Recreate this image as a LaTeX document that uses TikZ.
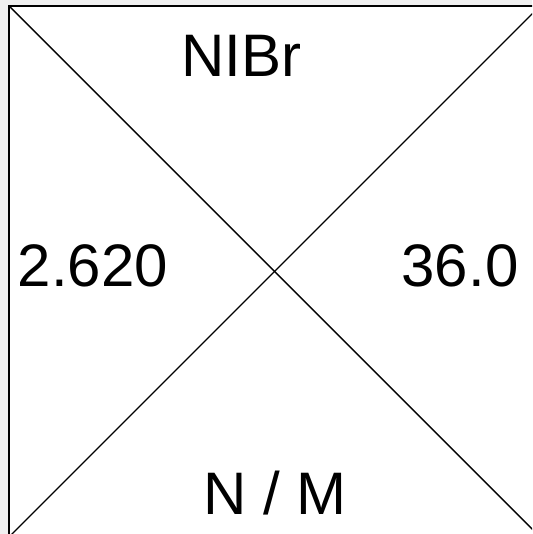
\documentclass[tikz,border=0pt]{standalone}
\usepackage{fontspec}
\setmainfont{Liberation Sans}
\usepackage{xcolor}
\usetikzlibrary{positioning}
\definecolor{bgGray}{HTML}{f0f0f0}
\definecolor{ink}{HTML}{000000}

\begin{document}
\begin{tikzpicture}[x=1pt, y=1pt, lbl/.style={font=\fontsize{60}{62}\selectfont, color=ink, anchor=base, inner sep=0pt}, edge/.style={draw=ink, line width=1.4pt}]
\useasboundingbox (0,0) rectangle (532,534);
\fill[bgGray] (0,0) rectangle (532,534);
\clip (0,0) rectangle (532,534);
\coordinate (sw) at (9,-3); \coordinate (ne) at (540,528);
\coordinate (nw) at (9,528); \coordinate (se) at (540,-3);
\draw[edge, fill=white] (sw) rectangle (ne);
\draw[edge] (nw) -- (se); \draw[edge] (sw) -- (ne);
\node[lbl] (top) at (241,457) {NIBr};
\node[lbl] (left) at (93,247) {2.620};
\node[lbl] (right) at (460,247) {36.0};
\node[lbl] (bottom) at (275,19) {N / M};
\end{tikzpicture}
\end{document}
